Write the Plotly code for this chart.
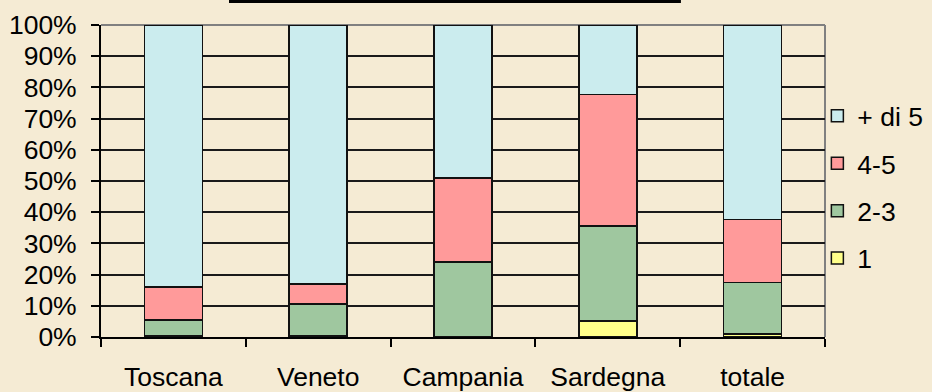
import plotly.graph_objects as go

categories = ["Toscana", "Veneto", "Campania", "Sardegna", "totale"]
s_1 = [0.3, 0.3, 0.2, 5.1, 0.9]
s_23 = [5.2, 10.2, 23.9, 30.5, 16.6]
s_45 = [10.5, 6.5, 26.8, 42.1, 20.2]
s_di5 = [84.0, 83.0, 49.1, 22.3, 62.3]

series = [
    ("1", s_1, "#FFFF8A", 4),
    ("2-3", s_23, "#9FC79F", 3),
    ("4-5", s_45, "#FF9A9A", 2),
    ("+ di 5", s_di5, "#CBECEE", 1),
]

FONT = "Liberation Sans, Arial, sans-serif"

fig = go.Figure()
for name, vals, col, rank in series:
    fig.add_trace(go.Bar(
        x=categories, y=vals, name=name, legendgroup=name, legendrank=rank,
        marker=dict(color=col, line=dict(color="#111111", width=1.5)),
    ))

fig.update_layout(
    width=932, height=392,
    margin=dict(l=101, r=107, t=25, b=55, autoexpand=False),
    barmode="stack", barnorm="percent", bargap=0.6,
    paper_bgcolor="#F5EBD4", plot_bgcolor="#F5EBD4",
    font=dict(family=FONT, size=26.5, color="black"),
    showlegend=True,
    legend=dict(
        xref="container", yref="container",
        x=0.877, xanchor="left", y=1 - 92 / 392, yanchor="top",
        traceorder="grouped", tracegroupgap=10,
        font=dict(size=26.5), bgcolor="rgba(0,0,0,0)",
        itemwidth=30,
    ),
    xaxis=dict(
        automargin=False,
        showline=True, linecolor="black", linewidth=2,
        ticks="outside", tickson="boundaries", ticklen=8, tickwidth=2,
        tickcolor="black", ticklabelstandoff=15, showgrid=False,
    ),
    yaxis=dict(
        automargin=False,
        range=[0, 100], dtick=10, ticksuffix="%",
        showline=True, linecolor="black", linewidth=2,
        ticks="outside", ticklen=8, tickwidth=2, tickcolor="black",
        showgrid=True, gridcolor="#1a1a1a", gridwidth=1.5,
        ticklabelstandoff=9, zeroline=False,
    ),
    shapes=[
        dict(type="line", xref="paper", yref="paper", x0=0, x1=1, y0=1, y1=1,
             line=dict(color="#808080", width=2), layer="below"),
        dict(type="line", xref="paper", yref="paper", x0=1, x1=1, y0=0, y1=1,
             line=dict(color="#808080", width=2), layer="below"),
        dict(type="rect", xref="paper", yref="paper", x0=0.1768, x1=0.801,
             y0=1.0705, y1=1.2, fillcolor="black", line=dict(width=0)),
    ],
)

fig.write_html("out.html")
